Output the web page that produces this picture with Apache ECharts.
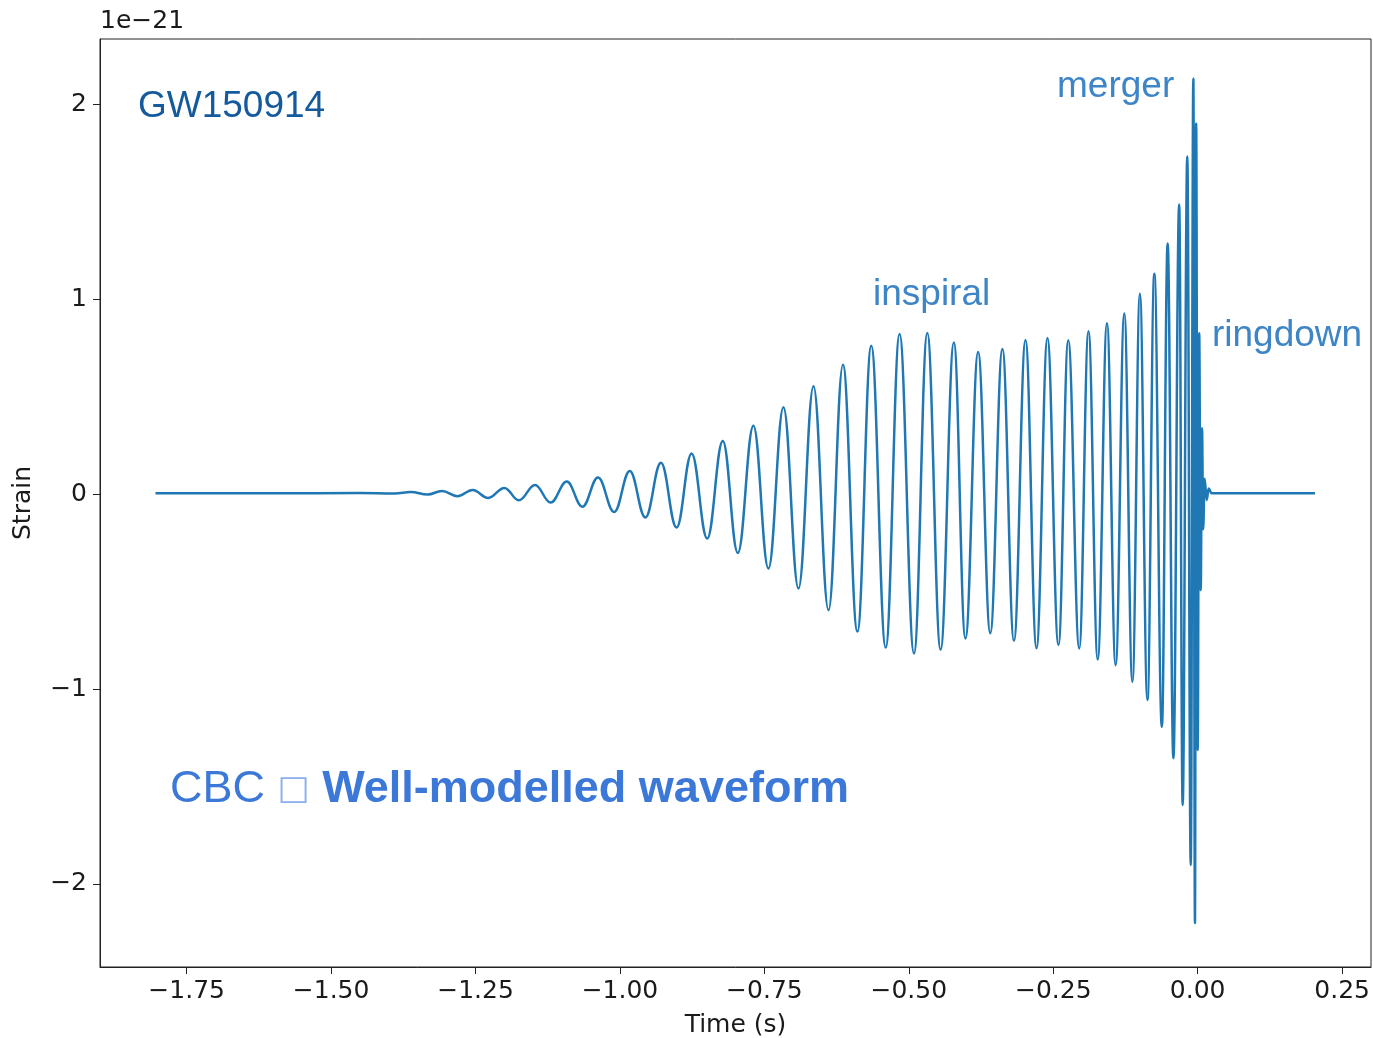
<!DOCTYPE html>
<html>
<head>
<meta charset="utf-8">
<script src="https://cdn.jsdelivr.net/npm/echarts@6/dist/echarts.min.js"></script>
<style>
html,body{margin:0;padding:0;background:#fff;}
#chart{width:1373px;height:1038px;}
</style>
</head>
<body>
<div id="chart"></div>
<script>
// ---- data (time in s, strain in units of 1e-21) ----
const time = [
  -1.804, -1.600, -1.450, -1.390, -1.362, -1.333, -1.308, -1.281, -1.255, -1.228,
  -1.200, -1.175, -1.147, -1.120, -1.092, -1.065, -1.038, -1.010, -0.983, -0.956,
  -0.929, -0.902, -0.876, -0.849, -0.822, -0.796, -0.769, -0.743, -0.717, -0.691,
  -0.665, -0.639, -0.614, -0.589, -0.565, -0.540, -0.516, -0.491, -0.468, -0.445,
  -0.422, -0.402, -0.380, -0.359, -0.338, -0.318, -0.298, -0.279, -0.260, -0.241,
  -0.224, -0.205, -0.189, -0.173, -0.157, -0.142, -0.127, -0.113, -0.100, -0.087,
  -0.075, -0.062, -0.052, -0.042, -0.032, -0.026, -0.018, -0.012, -0.0075, -0.0047,
  -0.0026, 0.0000, 0.0026, 0.0052, 0.0075, 0.0095, 0.0120, 0.0156, 0.0190, 0.0240,
  0.060, 0.120, 0.203
];
const strain = [
  0.005, 0.005, 0.006, 0.004, 0.012, -0.002, 0.017, -0.010, 0.022, -0.019,
  0.032, -0.031, 0.048, -0.043, 0.065, -0.064, 0.086, -0.091, 0.119, -0.119,
  0.161, -0.171, 0.209, -0.227, 0.273, -0.301, 0.352, -0.381, 0.446, -0.484,
  0.554, -0.595, 0.665, -0.705, 0.762, -0.787, 0.822, -0.817, 0.827, -0.798,
  0.779, -0.740, 0.730, -0.713, 0.745, -0.752, 0.791, -0.790, 0.802, -0.774,
  0.790, -0.791, 0.836, -0.848, 0.878, -0.877, 0.927, -0.963, 1.029, -1.056,
  1.132, -1.193, 1.286, -1.355, 1.487, -1.595, 1.733, -1.903, 2.133, -2.200,
  1.903, -1.313, 0.826, -0.492, 0.338, -0.180, 0.080, -0.030, 0.030, 0.005,
  0.005, 0.005, 0.005
];
const xTicks = [-1.75, -1.50, -1.25, -1.00, -0.75, -0.50, -0.25, 0.00, 0.25];
const yTicks = [-2, -1, 0, 1, 2];
const xRange = [-1.9, 0.3];
const yRange = [-2.426, 2.336];
const annotations = {
  event: 'GW150914',
  merger: 'merger',
  inspiral: 'inspiral',
  ringdown: 'ringdown',
  scale: '1e\u221221',
  xName: 'Time (s)',
  yName: 'Strain'
};

const seriesData = time.map((t, i) => [t, strain[i]]);
const fmtMinus = s => s.replace('-', '\u2212');

const chart = echarts.init(document.getElementById('chart'), null, {renderer: 'canvas'});
const tickFont = {fontFamily: 'DejaVu Sans', fontSize: 25, color: '#1a1a1a'};
const annFont = 'Liberation Sans';
chart.setOption({
  animation: false,
  backgroundColor: '#fff',
  grid: {left: 100, right: 2, top: 39, bottom: 71, show: true, borderColor: '#222', borderWidth: 1,
         containLabel: false, outerBoundsMode: 'none'},
  xAxis: {
    type: 'value', min: xRange[0], max: xRange[1],
    name: annotations.xName, nameLocation: 'middle', nameGap: 46,
    nameTextStyle: {fontFamily: 'DejaVu Sans', fontSize: 25, color: '#1a1a1a'},
    axisLine: {show: true, onZero: false, lineStyle: {color: '#222', width: 1}},
    axisTick: {show: true, inside: false, length: 7, customValues: xTicks, lineStyle: {color: '#222'}},
    axisLabel: Object.assign({customValues: xTicks, margin: 12, formatter: v => fmtMinus(v.toFixed(2))}, tickFont),
    splitLine: {show: false}
  },
  yAxis: {
    type: 'value', min: yRange[0], max: yRange[1],
    name: annotations.yName, nameLocation: 'middle', nameGap: 64, nameRotate: 90,
    nameTextStyle: {fontFamily: 'DejaVu Sans', fontSize: 25, color: '#1a1a1a'},
    axisLine: {show: true, onZero: false, lineStyle: {color: '#222', width: 1}},
    axisTick: {show: true, inside: false, length: 7, customValues: yTicks, lineStyle: {color: '#222'}},
    axisLabel: Object.assign({customValues: yTicks, margin: 13, formatter: v => fmtMinus(String(Math.round(v)))}, tickFont),
    splitLine: {show: false}
  },
  series: [{
    type: 'line',
    data: seriesData,
    showSymbol: false,
    smooth: 0.4,
    smoothMonotone: 'x',
    lineStyle: {color: '#1f77b4', width: 2.5},
    clip: true
  }],
  graphic: [
    {type: 'text', left: 100, top: 9, style: {text: annotations.scale, font: '25px "DejaVu Sans"', fill: '#1a1a1a'}},
    {type: 'text', x: 138, y: 107, style: {text: annotations.event, font: '37px "Liberation Sans"', fill: '#155a9c', verticalAlign: 'middle'}},
    {type: 'text', x: 1057, y: 87, style: {text: annotations.merger, font: '37px "Liberation Sans"', fill: '#3d85c6', verticalAlign: 'middle'}},
    {type: 'text', x: 873, y: 295, style: {text: annotations.inspiral, font: '37px "Liberation Sans"', fill: '#3d85c6', verticalAlign: 'middle'}},
    {type: 'text', x: 1212, y: 336, style: {text: annotations.ringdown, font: '37px "Liberation Sans"', fill: '#3d85c6', verticalAlign: 'middle'}},
    {type: 'text', x: 170, y: 790, style: {
      text: '{a|CBC }{b|\u25A1}{a| }{c|Well-modelled waveform}',
      verticalAlign: 'middle',
      rich: {
        a: {fontFamily: annFont, fontSize: 45, fill: '#3c78d8'},
        b: {fontFamily: 'DejaVu Sans', fontSize: 34, fill: '#8ab0ec'},
        c: {fontFamily: annFont, fontSize: 45, fontWeight: 'bold', fill: '#3c78d8'}
      }
    }}
  ]
});
</script>
</body>
</html>
